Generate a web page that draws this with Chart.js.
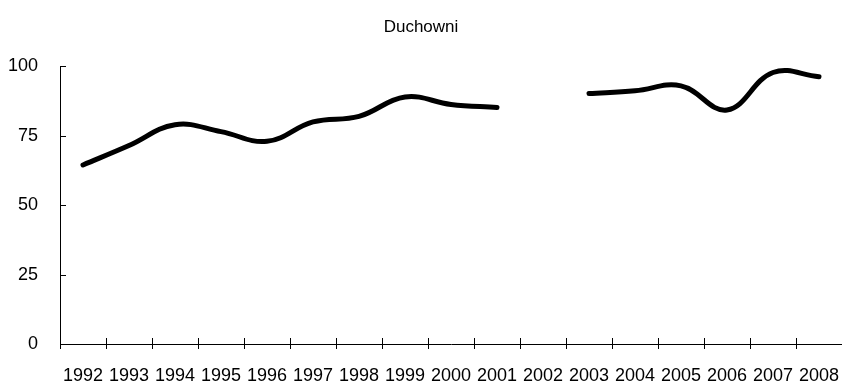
<!DOCTYPE html>
<html>
<head>
<meta charset="utf-8">
<script src="https://cdn.jsdelivr.net/npm/chart.js@4"></script>
<style>
  html, body { margin: 0; padding: 0; background: #fff; }
  #wrap { width: 842px; height: 384px; }
</style>
</head>
<body>
<div id="wrap"><canvas id="c" width="842" height="384"></canvas></div>
<script>
const years = ['1992','1993','1994','1995','1996','1997','1998','1999','2000','2001','2002','2003','2004','2005','2006','2007','2008'];
const duchowni = [64.5, 71.5, 79, 76.5, 73, 80, 82, 89, 86.3, 85.2, null, 90.2, 91.2, 93, 84.3, 97.8, 96.3];
const yTicks = [0, 25, 50, 75, 100];
const chartTitle = 'Duchowni';

const FONT = "'Liberation Sans', Arial, sans-serif";

const tickMarks = {
  id: 'tickMarks',
  afterDraw(chart) {
    const ctx = chart.ctx;
    const x = chart.scales.x, y = chart.scales.y;
    ctx.save();
    ctx.strokeStyle = '#000';
    ctx.lineWidth = 1;
    ctx.beginPath();
    for (let i = 0; i <= years.length; i++) {
      const px = Math.round(x.getPixelForValue(i - 0.5)) + 0.5;
      ctx.moveTo(px, i === 0 ? y.bottom : y.bottom - 6);
      ctx.lineTo(px, y.bottom + 5);
    }
    yTicks.forEach(v => {
      const py = Math.round(y.getPixelForValue(v)) + 0.5;
      ctx.moveTo(x.left, py);
      ctx.lineTo(x.left + 6, py);
    });
    ctx.stroke();
    ctx.restore();
  }
};

new Chart(document.getElementById('c'), {
  type: 'line',
  data: {
    labels: years,
    datasets: [{
      data: duchowni,
      borderColor: '#000',
      borderWidth: 5,
      borderCapStyle: 'round',
      borderJoinStyle: 'round',
      pointRadius: 0,
      tension: 0.4,
      spanGaps: false,
      fill: false
    }]
  },
  options: {
    responsive: false,
    animation: false,
    devicePixelRatio: 1,
    layout: { padding: { left: 0, right: 0, top: 0, bottom: 0 } },
    plugins: {
      legend: { display: false },
      tooltip: { enabled: false },
      title: {
        display: true,
        text: chartTitle,
        color: '#000',
        font: { family: FONT, size: 17, weight: 'normal' },
        padding: { top: 17, bottom: 29 }
      }
    },
    scales: {
      x: {
        offset: true,
        grid: { display: false, offset: true },
        border: { display: true, color: '#000', width: 1 },
        ticks: {
          color: '#000',
          font: { family: FONT, size: 18 },
          padding: 13,
          maxRotation: 0,
          autoSkip: false
        },
        afterFit(s) { s.height = 40; s.paddingRight = 0; s.paddingLeft = 0; }
      },
      y: {
        min: 0,
        max: 100,
        afterBuildTicks(s) { s.ticks = yTicks.map(v => ({ value: v })); },
        grid: { display: false },
        border: { display: true, color: '#000', width: 1 },
        ticks: {
          color: '#000',
          font: { family: FONT, size: 18 },
          padding: 14
        },
        afterFit(s) { s.width = 60; }
      }
    }
  },
  plugins: [tickMarks]
});
</script>
</body>
</html>
